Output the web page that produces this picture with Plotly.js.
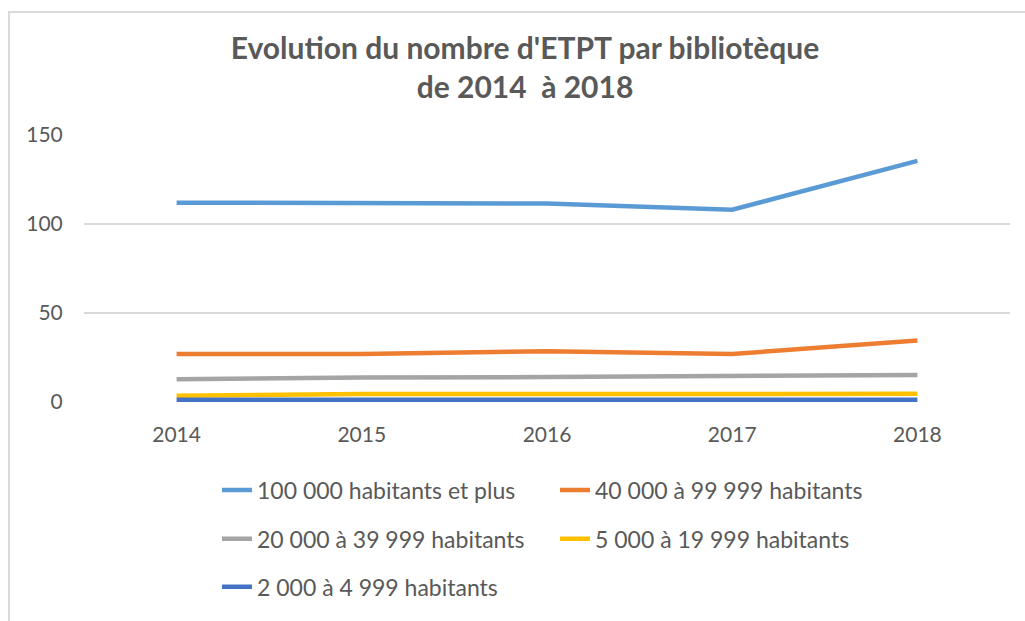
<!DOCTYPE html>
<html>
<head>
<meta charset="utf-8">
<script src="https://cdn.plot.ly/plotly-3.0.1.min.js"></script>
<style>
  html, body { margin: 0; padding: 0; background: #fff; }
  #wrap { position: relative; width: 1025px; height: 621px; }
  #chart { position: absolute; left: 0; top: 0; width: 1025px; height: 621px; }
  #frame { position: absolute; left: 8px; top: 11px; right: -5px; bottom: -5px;
           border-left: 2px solid #d9d9d9; border-top: 2px solid #d9d9d9; pointer-events: none; }
</style>
</head>
<body>
<div id="wrap">
  <div id="chart"></div>
  <div id="frame"></div>
</div>
<script>
// ---- data ----
const years = ["2014", "2015", "2016", "2017", "2018"];
const seriesNames = [
  "100 000 habitants et plus",
  "40 000 à 99 999 habitants",
  "20 000 à 39 999 habitants",
  "5 000 à 19 999 habitants",
  "2 000 à 4 999 habitants"
];
const hab100k = [112, 112, 111.5, 108, 135.5];
const hab40k  = [27, 27, 28.5, 27, 34.5];
const hab20k  = [12.8, 13.8, 14, 14.8, 15.2];
const hab5k   = [3.5, 4.5, 4.5, 4.6, 4.6];
const hab2k   = [1.3, 1.3, 1.3, 1.3, 1.3];
const yTicks  = [0, 50, 100, 150];

// ---- styling ----
const colors = ["#5B9BD5", "#ED7D31", "#A5A5A5", "#FFC000", "#4472C4"];
const values = [hab100k, hab40k, hab20k, hab5k, hab2k];
const legendIds = ["legend", "legend2", "legend3", "legend4", "legend5"];
const txt = "#595959";
const FONT = "Lato, 'Liberation Sans', sans-serif";

const traces = values.map((v, i) => ({
  type: "scatter",
  mode: "lines",
  x: years,
  y: v,
  name: seriesNames[i],
  legend: legendIds[i],
  line: { color: colors[i], width: 4.5 },
  hoverinfo: "x+y+name"
}));

const mL = 84, mT = 135, mB = 213, W = 1025, H = 621;
const plotW = W - mL - 15, plotH = H - mT - mB;
const px2x = p => (p - mL) / plotW;
const py2y = p => (H - mB - p) / plotH;

function leg(textX, centerY) {
  return {
    orientation: "h",
    x: px2x(textX - 40), xanchor: "left",
    y: py2y(centerY), yanchor: "middle",
    font: { family: FONT, size: 23, color: txt },
    bgcolor: "rgba(0,0,0,0)", borderwidth: 0
  };
}

const layout = {
  width: W, height: H,
  margin: { l: mL, r: 15, t: mT, b: mB },
  paper_bgcolor: "#ffffff",
  plot_bgcolor: "#ffffff",
  font: { family: FONT, color: txt },
  title: {
    text: "<b>Evolution du nombre d'ETPT par bibliotèque<br>de 2014  à 2018</b>",
    font: { family: FONT, size: 30, color: txt },
    x: 525 / W, xanchor: "center", xref: "container",
    y: 1 - 59 / H, yanchor: "top", yref: "container"
  },
  xaxis: {
    type: "category",
    range: [-0.5, 4.5],
    showgrid: false, zeroline: false, showline: false,
    ticks: "outside", ticklen: 14, tickcolor: "rgba(0,0,0,0)",
    tickfont: { family: FONT, size: 21, color: txt },
    fixedrange: true
  },
  yaxis: {
    range: [0, 150],
    tickvals: yTicks,
    showgrid: true, gridcolor: "#d9d9d9", gridwidth: 1.5,
    zeroline: false, showline: false,
    ticks: "outside", ticklen: 16, tickcolor: "rgba(0,0,0,0)",
    tickfont: { family: FONT, size: 21, color: txt },
    fixedrange: true
  },
  showlegend: true,
  legend:  leg(257, 498),
  legend2: leg(595, 498),
  legend3: leg(257, 548),
  legend4: leg(595, 548),
  legend5: leg(257, 597)
};

Plotly.newPlot("chart", traces, layout, { displayModeBar: false, staticPlot: false });
</script>
</body>
</html>
